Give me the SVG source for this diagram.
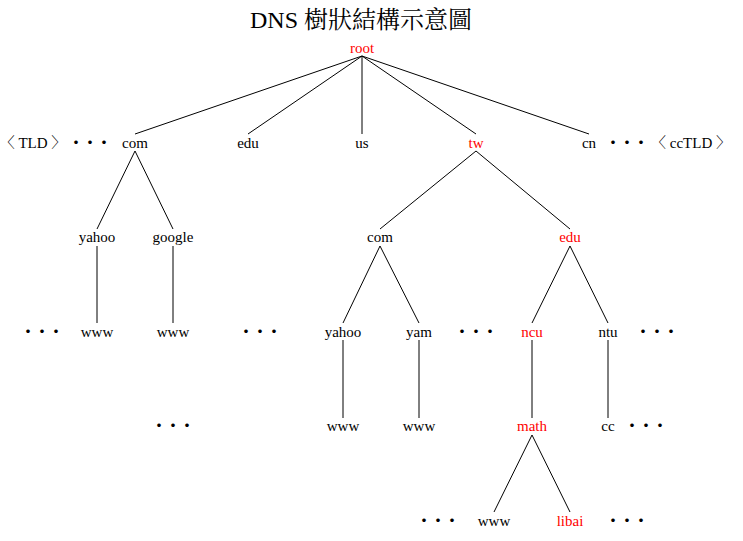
<svg xmlns="http://www.w3.org/2000/svg" width="743" height="541" viewBox="0 0 743 541">
<style>
text{font-family:"Liberation Serif","Noto Serif CJK TC","Noto Sans CJK TC",serif;font-size:15px;text-anchor:middle;fill:#000}
.r{fill:#f00}
.d{font-family:"Noto Sans CJK TC",sans-serif;font-size:14px;font-weight:bold}
line{stroke:#000;stroke-width:1}
</style>
<rect width="743" height="541" fill="#fff"/>
<text x="361" y="28" style="font-size:24px">DNS 樹狀結構示意圖</text>
<g id="connectors">
<line x1="362" y1="56" x2="135" y2="134"/><line x1="362" y1="56" x2="248" y2="134"/><line x1="362" y1="56" x2="362" y2="134"/><line x1="362" y1="56" x2="476" y2="134"/><line x1="362" y1="56" x2="589" y2="134"/>
<line x1="135" y1="151" x2="97" y2="229"/><line x1="135" y1="151" x2="173" y2="229"/>
<line x1="97" y1="246" x2="97" y2="323"/><line x1="173" y1="246" x2="173" y2="323"/>
<line x1="476" y1="151" x2="380" y2="229"/><line x1="476" y1="151" x2="570" y2="229"/>
<line x1="380" y1="246" x2="343" y2="323"/><line x1="380" y1="246" x2="419" y2="323"/>
<line x1="570" y1="246" x2="532" y2="323"/><line x1="570" y1="246" x2="608" y2="323"/>
<line x1="343" y1="340" x2="343" y2="418"/><line x1="419" y1="340" x2="419" y2="418"/>
<line x1="532" y1="340" x2="532" y2="418"/><line x1="608" y1="340" x2="608" y2="418"/>
<line x1="532" y1="435" x2="494" y2="512"/><line x1="532" y1="435" x2="570" y2="512"/>
</g>
<g id="root"><text class="r" x="362" y="53">root</text></g>
<g id="l1">
<text x="33" y="148">〈 TLD 〉</text><text class="d" x="90" y="147">・・・</text>
<text x="135" y="148">com</text><text x="248" y="148">edu</text><text x="362" y="148">us</text>
<text class="r" x="476" y="148">tw</text><text x="589" y="148">cn</text>
<text class="d" x="627" y="147">・・・</text><text x="691" y="148">〈 ccTLD 〉</text>
</g>
<g id="l2">
<text x="97" y="242">yahoo</text><text x="173" y="242">google</text><text x="380" y="242">com</text><text class="r" x="570" y="242">edu</text>
</g>
<g id="l3">
<text class="d" x="42" y="336">・・・</text><text x="97" y="337">www</text><text x="173" y="337">www</text><text class="d" x="260" y="336">・・・</text>
<text x="343" y="337">yahoo</text><text x="419" y="337">yam</text><text class="d" x="476" y="336">・・・</text>
<text class="r" x="532" y="337">ncu</text><text x="608" y="337">ntu</text><text class="d" x="657" y="336">・・・</text>
</g>
<g id="l4">
<text class="d" x="173" y="430">・・・</text><text x="343" y="431">www</text><text x="419" y="431">www</text>
<text class="r" x="532" y="431">math</text><text x="608" y="431">cc</text><text class="d" x="646" y="430">・・・</text>
</g>
<g id="l5">
<text class="d" x="438" y="525">・・・</text><text x="494" y="526">www</text><text class="r" x="570" y="526">libai</text><text class="d" x="627" y="525">・・・</text>
</g>
</svg>
